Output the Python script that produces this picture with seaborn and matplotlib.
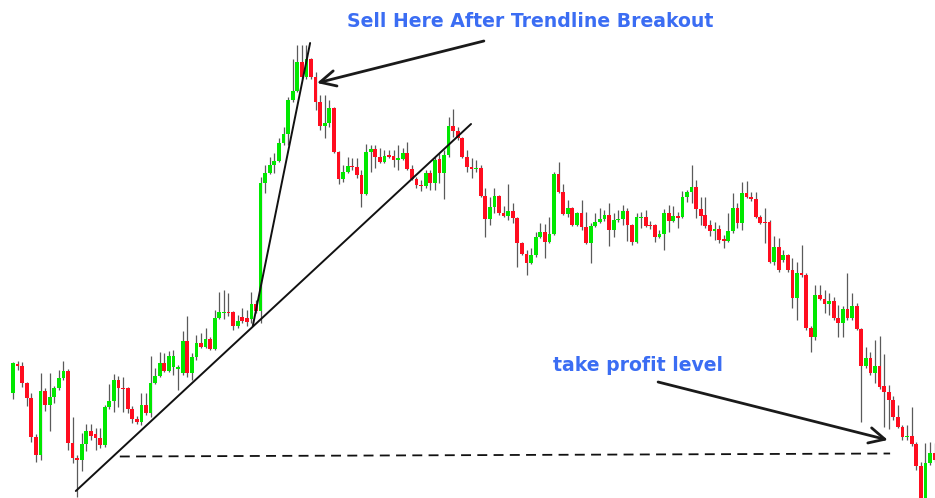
import numpy as np
import pandas as pd
import matplotlib
matplotlib.use("Agg")
import matplotlib.pyplot as plt
import seaborn as sns

# OHLC (price levels, arbitrary units, one entry per candle)
opens = [107, 136, 134, 117, 102, 63, 45, 109, 95, 103, 112, 122, 129, 57, 42, 40, 56, 69, 66, 62,
         55, 93, 99, 120, 112, 112, 91, 81, 78, 95, 87, 117, 124, 137, 129, 133, 131, 127, 159, 127,
         143, 157, 153, 161, 151, 182, 187, 188, 188, 174, 183, 182, 181, 196, 189, 317, 327, 335, 339, 357,
         366, 400, 409, 438, 423, 441, 423, 398, 374, 377, 392, 348, 321, 328, 334, 333, 325, 306, 348, 351,
         343, 338, 345, 344, 340, 341, 347, 331, 321, 315, 314, 327, 317, 341, 327, 345, 374, 369, 362, 343,
         333, 331, 332, 304, 281, 293, 304, 287, 284, 289, 282, 257, 246, 237, 245, 263, 268, 258, 266, 326,
         308, 286, 292, 275, 287, 273, 257, 274, 278, 281, 285, 270, 280, 281, 289, 275, 258, 282, 283, 275,
         275, 263, 266, 287, 279, 284, 283, 303, 308, 313, 291, 285, 275, 269, 271, 261, 259, 269, 292, 277,
         307, 303, 301, 283, 278, 278, 238, 253, 240, 245, 230, 202, 227, 225, 172, 163, 205, 201, 196, 199,
         182, 177, 191, 182, 194, 171, 134, 142, 127, 134, 114, 108, 100, 83, 73, 63, 64, 56, 34, 2,
         37, 47]
highs = [138, 139, 138, 118, 107, 66, 127, 112, 127, 114, 130, 139, 131, 83, 45, 67, 76, 76, 72, 72,
         95, 116, 126, 124, 123, 113, 94, 84, 107, 107, 144, 132, 148, 147, 149, 150, 135, 169, 184, 147,
         165, 167, 172, 163, 190, 208, 210, 207, 189, 185, 192, 190, 208, 200, 323, 335, 343, 347, 362, 373,
         403, 441, 455, 455, 455, 442, 428, 405, 405, 400, 393, 349, 335, 343, 342, 342, 330, 356, 355, 355,
         352, 350, 350, 350, 355, 352, 358, 335, 323, 320, 330, 330, 343, 347, 350, 383, 391, 373, 363, 350,
         342, 340, 335, 312, 303, 312, 305, 294, 316, 297, 283, 258, 250, 252, 268, 277, 276, 283, 328, 338,
         316, 300, 293, 288, 300, 288, 277, 287, 292, 290, 297, 287, 290, 295, 292, 276, 287, 288, 290, 279,
         276, 270, 291, 295, 294, 288, 309, 310, 335, 320, 303, 303, 280, 278, 275, 265, 287, 307, 297, 318,
         319, 308, 308, 285, 292, 280, 264, 262, 250, 246, 242, 238, 255, 227, 174, 215, 215, 210, 207, 203,
         195, 194, 227, 207, 197, 172, 153, 148, 160, 164, 146, 115, 104, 95, 75, 75, 93, 58, 38, 57,
         58, 57]
lows = [101, 130, 113, 94, 58, 38, 40, 89, 69, 97, 110, 120, 50, 37, 3, 29, 49, 60, 50, 52,
        53, 91, 88, 93, 88, 87, 77, 76, 75, 85, 83, 116, 123, 128, 128, 125, 110, 125, 123, 120,
        140, 152, 152, 150, 150, 181, 181, 184, 170, 172, 177, 174, 177, 187, 177, 307, 326, 327, 338, 355,
        355, 398, 408, 421, 421, 421, 390, 370, 362, 373, 347, 316, 318, 327, 330, 322, 293, 305, 328, 332,
        337, 337, 342, 333, 330, 340, 330, 320, 312, 309, 312, 310, 310, 317, 301, 343, 363, 360, 342, 328,
        322, 328, 303, 263, 275, 287, 285, 283, 280, 277, 233, 245, 225, 236, 243, 262, 242, 257, 265, 307,
        285, 283, 274, 274, 270, 256, 237, 273, 277, 279, 254, 263, 278, 275, 259, 255, 257, 272, 273, 271,
        258, 262, 250, 268, 278, 272, 282, 298, 297, 282, 275, 272, 264, 260, 257, 252, 258, 267, 272, 270,
        302, 299, 282, 276, 257, 237, 235, 228, 238, 228, 192, 180, 223, 170, 148, 160, 200, 187, 185, 180,
        163, 163, 180, 180, 170, 78, 132, 125, 117, 111, 73, 71, 80, 72, 60, 60, 54, 30, 0, 0,
        35, 38]
closes = [137, 134, 117, 102, 63, 45, 109, 95, 103, 112, 122, 129, 57, 42, 40, 56, 69, 64, 62, 55,
          93, 99, 120, 112, 111, 91, 81, 78, 95, 87, 117, 124, 137, 129, 144, 144, 133, 159, 127, 143,
          157, 153, 161, 151, 182, 188, 188, 187, 174, 179, 179, 178, 196, 189, 317, 327, 335, 339, 357, 366,
          400, 409, 438, 423, 441, 423, 398, 374, 377, 392, 348, 321, 328, 334, 333, 325, 306, 348, 351, 343,
          338, 344, 343, 340, 342, 347, 331, 321, 315, 314, 327, 317, 340, 327, 345, 374, 369, 362, 343, 333,
          331, 332, 304, 281, 293, 304, 287, 284, 289, 282, 257, 246, 237, 245, 263, 268, 258, 266, 326, 308,
          286, 292, 275, 287, 273, 257, 274, 278, 281, 285, 270, 280, 281, 289, 275, 258, 283, 283, 274, 274,
          263, 266, 287, 279, 284, 282, 303, 308, 313, 291, 284, 274, 269, 271, 260, 259, 269, 292, 277, 307,
          303, 301, 283, 277, 277, 238, 253, 230, 245, 230, 202, 227, 225, 172, 163, 205, 201, 196, 199, 182,
          177, 191, 182, 194, 171, 134, 142, 127, 134, 113, 108, 100, 83, 73, 63, 64, 56, 34, 2, 37,
          47, 40]

# trendlines, levels and labels (candle index, price)
uptrend_x = [13.7, 99.9]
uptrend_y = [9, 376]
steep_x = [52.3, 64.8]
steep_y = [174, 457]
tp_level_x = [23.3, 191.3]
tp_level_y = [43.5, 46.5]
sell_label = "Sell Here After Trendline Breakout"
sell_text_xy = (112.9, 478.5)
sell_arrow_tail = (102.7, 459)
sell_arrow_head = (66.3, 417)
tp_label = "take profit level"
tp_text_xy = (136.4, 135)
tp_arrow_tail = (140.7, 118)
tp_arrow_head = (190.8, 60)

GREEN = "#00e800"
RED = "#ff0d1f"
WICK = "#5a5a5a"
TEXT_BLUE = "#3b6df3"

df = pd.DataFrame({"open": opens, "high": highs, "low": lows, "close": closes})
df["idx"] = np.arange(len(df))
df["up"] = df["close"] >= df["open"]
df["body_lo"] = df[["open", "close"]].min(axis=1)
df["body_h"] = (df["close"] - df["open"]).abs().clip(lower=1.2)

sns.set_theme(style="white")
plt.rcParams["font.family"] = ["DejaVu Sans"]

fig = plt.figure(figsize=(9.35, 4.98), dpi=100)
ax = fig.add_axes([0, 0, 1, 1])

# wicks
ax.vlines(df["idx"], df["low"], df["high"], color=WICK, lw=0.9, zorder=1)
# bodies
colors = np.where(df["up"], GREEN, RED)
ax.bar(df["idx"], df["body_h"], bottom=df["body_lo"], width=0.82,
       color=colors, edgecolor="none", zorder=2)

# trendlines
lines = pd.DataFrame({
    "x": uptrend_x + steep_x,
    "y": uptrend_y + steep_y,
    "line": ["up"] * 2 + ["steep"] * 2,
})
sns.lineplot(data=lines, x="x", y="y", units="line", estimator=None,
             color="#111111", lw=1.4, ax=ax, zorder=3, legend=False)

# take profit level
ax.plot(tp_level_x, tp_level_y, color="#111111", lw=1.3, ls=(0, (5.5, 3.5)), zorder=3)

# annotations
ax.annotate("", xy=sell_arrow_head, xytext=sell_arrow_tail,
            arrowprops=dict(arrowstyle="->", color="#1a1a1a", lw=2.0, mutation_scale=28,
                            shrinkA=0, shrinkB=0), zorder=4)
ax.text(*sell_text_xy, sell_label, color=TEXT_BLUE, fontsize=13.6, fontweight="bold",
        ha="center", va="center")
ax.annotate("", xy=tp_arrow_head, xytext=tp_arrow_tail,
            arrowprops=dict(arrowstyle="->", color="#1a1a1a", lw=2.0, mutation_scale=28,
                            shrinkA=0, shrinkB=0), zorder=4)
ax.text(*tp_text_xy, tp_label, color=TEXT_BLUE, fontsize=13.6, fontweight="bold",
        ha="center", va="center")

# px -> data: candle i sits at 13 + 4.585*i px, price = 500 - y px
ax.set_xlim(-13 / 4.585, (935 - 13) / 4.585)
ax.set_ylim(2, 500)
ax.axis("off")

fig.savefig("out.png", dpi=100, facecolor="white")
